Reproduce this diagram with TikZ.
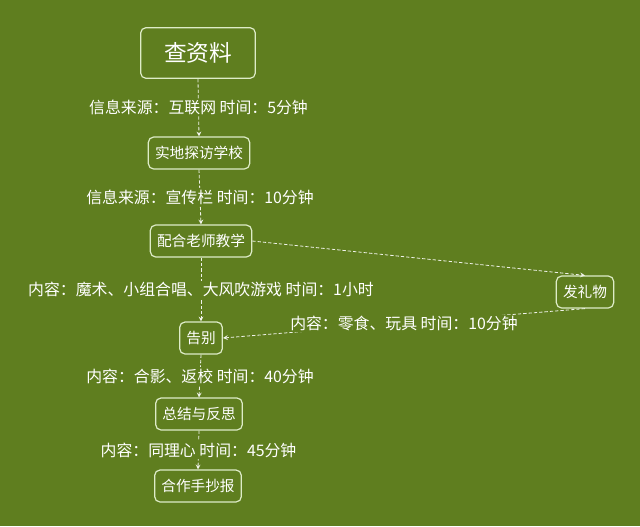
\documentclass[tikz,border=0pt]{standalone}
\usepackage{fontspec}
\setmainfont{Noto Sans CJK SC}
\usepackage{tikz}
\definecolor{bg}{RGB}{95,126,31}
\definecolor{edge}{RGB}{222,236,200}

\begin{document}
\begin{tikzpicture}[x=0.75pt, y=-0.75pt, >=stealth,
	every node/.style={font=\fontsize{11}{13}\selectfont, text=white},
	box/.style={draw=edge, line width=0.9pt, rounded corners=4pt, inner xsep=5pt, minimum height=24pt},
	lbl/.style={fill=bg, inner sep=1pt, font=\fontsize{11.9}{14}\selectfont},
	link/.style={->, draw=white!90!bg, line width=0.6pt, dash pattern=on 2.5pt off 1.5pt}]
	\fill[bg] (0,0) rectangle (640,526);
	\useasboundingbox (0,0) rectangle (640,526);
	% main column
	\node[box, minimum width=86pt, minimum height=38pt, font=\fontsize{17}{19}\selectfont] (search) at (198,53) {查资料};
	\node[box] (visit) at (199,153) {实地探访学校};
	\node[box] (teach) at (201,241) {配合老师教学};
	\node[box] (bye) at (201,338) {告别};
	\node[box] (review) at (199,414) {总结与反思};
	\node[box] (poster) at (198,486) {合作手抄报};
	% side branch
	\node[box] (gift) at (585,292) {发礼物};
	\draw[link] (search.south) -- (visit.north) node[lbl, midway] {信息来源：互联网 时间：5分钟};
	\draw[link] (visit.south) -- (teach.north) node[lbl, midway] {信息来源：宣传栏 时间：10分钟};
	\draw[link] (teach.south) -- (bye.north) node[lbl, midway] {内容：魔术、小组合唱、大风吹游戏 时间：1小时};
	\draw[link] (bye.south) -- (review.north) node[lbl, midway] {内容：合影、返校 时间：40分钟};
	\draw[link] (review.south) -- (poster.north) node[lbl, midway] {内容：同理心 时间：45分钟};
	\draw[link] (teach.east) -- (gift.north);
	\draw[link] (gift.south) -- (bye.east) node[lbl, midway] {内容：零食、玩具 时间：10分钟};
\end{tikzpicture}
\end{document}
